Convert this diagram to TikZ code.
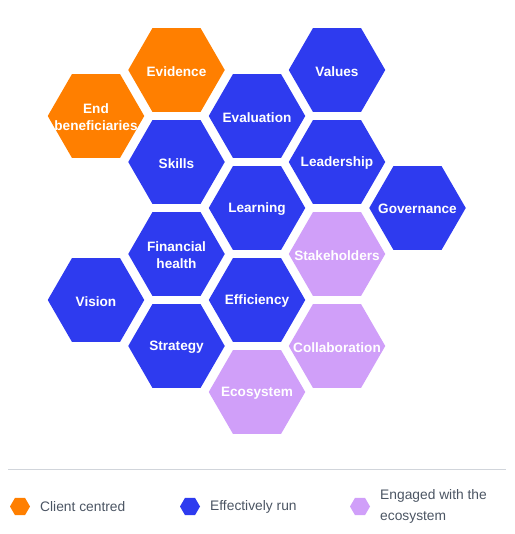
\documentclass[tikz,border=0pt]{standalone}
\usepackage{fontspec}
\setmainfont{Liberation Sans}
\usetikzlibrary{shapes.geometric}
\definecolor{corange}{HTML}{FF7F00}
\definecolor{cblue}{HTML}{2E3BEF}
\definecolor{cpurple}{HTML}{D09FF9}
\definecolor{ctext}{HTML}{4B5563}
\definecolor{cline}{HTML}{D1D5DB}
\tikzset{
  hex/.style={regular polygon, regular polygon sides=6, minimum size=96.5pt, inner sep=0pt, outer sep=0pt},
  lhex/.style={regular polygon, regular polygon sides=6, minimum size=20pt, inner sep=0pt, outer sep=0pt},
  lbl/.style={text=white, font=\fontsize{13.6}{16.8}\selectfont\bfseries, align=center, inner sep=0pt},
  legtext/.style={text=ctext, font=\fontsize{13.8}{20.7}\selectfont, align=left, anchor=west, inner sep=0pt},
}
\begin{document}
\begin{tikzpicture}[x=1pt,y=-1pt]
\useasboundingbox (0,0) rectangle (514,534);
% column 1
\node[hex, fill=corange] (endb) at (96,116) {};
\node[hex, fill=cblue] (vision) at (96,300) {};
% column 2
\node[hex, fill=corange] (evid) at (176.5,70) {};
\node[hex, fill=cblue] (skills) at (176.5,162) {};
\node[hex, fill=cblue] (fin) at (176.5,254) {};
\node[hex, fill=cblue] (strat) at (176.5,346) {};
% column 3
\node[hex, fill=cblue] (evalu) at (257,116) {};
\node[hex, fill=cblue] (learn) at (257,208) {};
\node[hex, fill=cblue] (effic) at (257,300) {};
\node[hex, fill=cpurple] (ecos) at (257,392) {};
% column 4
\node[hex, fill=cblue] (values) at (337,70) {};
\node[hex, fill=cblue] (lead) at (337,162) {};
\node[hex, fill=cpurple] (stake) at (337,254) {};
\node[hex, fill=cpurple] (collab) at (337,346) {};
% column 5
\node[hex, fill=cblue] (gov) at (417.5,208) {};
% labels
\node[lbl] (tendb) at ([yshift=-1.2pt]endb) {End\\beneficiaries};
\node[lbl] (tvision) at ([yshift=-1.2pt]vision) {Vision};
\node[lbl] (tevid) at ([yshift=-1.2pt]evid) {Evidence};
\node[lbl] (tskills) at ([yshift=-1.2pt]skills) {Skills};
\node[lbl] (tfin) at ([yshift=-1.2pt]fin) {Financial\\health};
\node[lbl] (tstrat) at ([yshift=-1.2pt]strat) {Strategy};
\node[lbl] (tevalu) at ([yshift=-1.2pt]evalu) {Evaluation};
\node[lbl] (tlearn) at ([yshift=-1.2pt]learn) {Learning};
\node[lbl] (teffic) at ([yshift=-1.2pt]effic) {Efficiency};
\node[lbl] (tecos) at ([yshift=-1.2pt]ecos) {Ecosystem};
\node[lbl] (tvalues) at ([yshift=-1.2pt]values) {Values};
\node[lbl] (tlead) at ([yshift=-1.2pt]lead) {Leadership};
\node[lbl] (tstake) at ([yshift=-1.2pt]stake) {Stakeholders};
\node[lbl] (tcollab) at ([yshift=-1.2pt]collab) {Collaboration};
\node[lbl] (tgov) at ([yshift=-1.2pt]gov) {Governance};
% legend
\coordinate (la) at (8,469.5);
\coordinate (lb) at (506,469.5);
\draw[cline, line width=1pt] (la) -- (lb);
\node[lhex, fill=corange] (l1) at (20,506.5) {};
\node[legtext] (lt1) at (40,506.5) {Client centred};
\node[lhex, fill=cblue] (l2) at (190,506.5) {};
\node[legtext] (lt2) at (210,506.5) {Effectively run};
\node[lhex, fill=cpurple] (l3) at (360,506.5) {};
\node[legtext] (lt3) at (380,506.5) {Engaged with the\\ecosystem};
\end{tikzpicture}
\end{document}
